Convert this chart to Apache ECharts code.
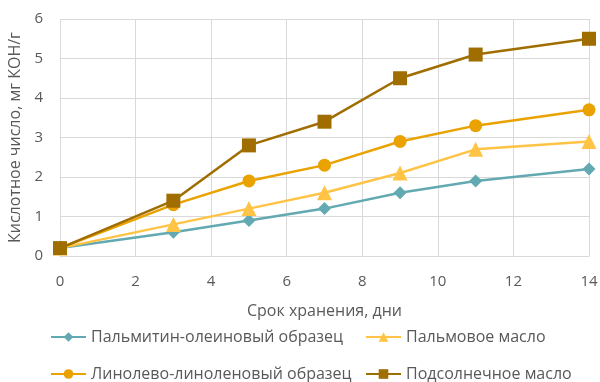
<!DOCTYPE html>
<html>
<head>
<meta charset="utf-8">
<script src="https://cdn.jsdelivr.net/npm/echarts@6/dist/echarts.min.js"></script>
<style>
  html, body { margin: 0; padding: 0; background: #fff; }
  #chart { width: 600px; height: 382px; }
</style>
</head>
<body>
<div id="chart"></div>
<script>
// Storage time, days
const days = [0, 3, 5, 7, 9, 11, 14];

// Acid value, mg KOH/g
const palmOlein = [0.2, 0.6, 0.9, 1.2, 1.6, 1.9, 2.2];
const palmOil = [0.2, 0.8, 1.2, 1.6, 2.1, 2.7, 2.9];
const linoleic = [0.2, 1.3, 1.9, 2.3, 2.9, 3.3, 3.7];
const sunflower = [0.2, 1.4, 2.8, 3.4, 4.5, 5.1, 5.5];

const seriesNames = [
  'Пальмитин-олеиновый образец',
  'Пальмовое масло',
  'Линолево-линоленовый образец',
  'Подсолнечное масло'
];

const textColor = '#595959';
const gridColor = '#d9d9d9';
const font = '"Open Sans", sans-serif';

function pairs(values) {
  return days.map((d, i) => [d, values[i]]);
}

function makeSeries(name, values, color, symbol, size) {
  return {
    name: name,
    type: 'line',
    data: pairs(values),
    symbol: symbol,
    symbolSize: size,
    lineStyle: { color: color, width: 2.5 },
    itemStyle: { color: color },
    emphasis: { disabled: true }
  };
}

const chart = echarts.init(document.getElementById('chart'), null, { renderer: 'canvas' });

const legendText = { color: textColor, fontSize: 16, fontFamily: font };

// One legend per entry, laid out as a 2x2 table
function legendCell(name, left, top) {
  return {
    data: [name],
    left: left, top: top,
    padding: 0,
    itemWidth: 35, itemHeight: 12,
    textStyle: legendText
  };
}

chart.setOption({
  animation: false,
  textStyle: { fontFamily: font },
  grid: { left: 60, right: 11, top: 19, bottom: 126, outerBoundsMode: 'none', containLabel: false },
  legend: [
    legendCell(seriesNames[0], 50, 329),
    legendCell(seriesNames[1], 365, 329),
    legendCell(seriesNames[2], 50, 366),
    legendCell(seriesNames[3], 365, 366)
  ],
  xAxis: {
    type: 'value',
    min: 0, max: 14, interval: 2,
    name: 'Срок хранения, дни',
    nameLocation: 'middle',
    nameGap: 47,
    nameTextStyle: { color: textColor, fontSize: 16, fontFamily: font },
    axisLine: { show: true, lineStyle: { color: gridColor } },
    axisTick: { show: false },
    axisLabel: { color: textColor, fontSize: 15, margin: 18, fontFamily: font },
    splitLine: { show: true, lineStyle: { color: gridColor, width: 1 } }
  },
  yAxis: {
    type: 'value',
    min: 0, max: 6, interval: 1,
    name: 'Кислотное число, мг КОН/г',
    nameLocation: 'middle',
    nameGap: 36,
    nameTextStyle: { color: textColor, fontSize: 16, fontFamily: font },
    axisLine: { show: false },
    axisTick: { show: false },
    axisLabel: { color: textColor, fontSize: 15, margin: 17, fontFamily: font },
    splitLine: { show: true, lineStyle: { color: gridColor, width: 1 } }
  },
  series: [
    makeSeries(seriesNames[0], palmOlein, '#62a9b2', 'diamond', 13),
    makeSeries(seriesNames[1], palmOil, '#ffc445', 'triangle', 15),
    makeSeries(seriesNames[2], linoleic, '#e9a200', 'circle', 13),
    makeSeries(seriesNames[3], sunflower, '#a06d00', 'rect', 14)
  ]
});
</script>
</body>
</html>
